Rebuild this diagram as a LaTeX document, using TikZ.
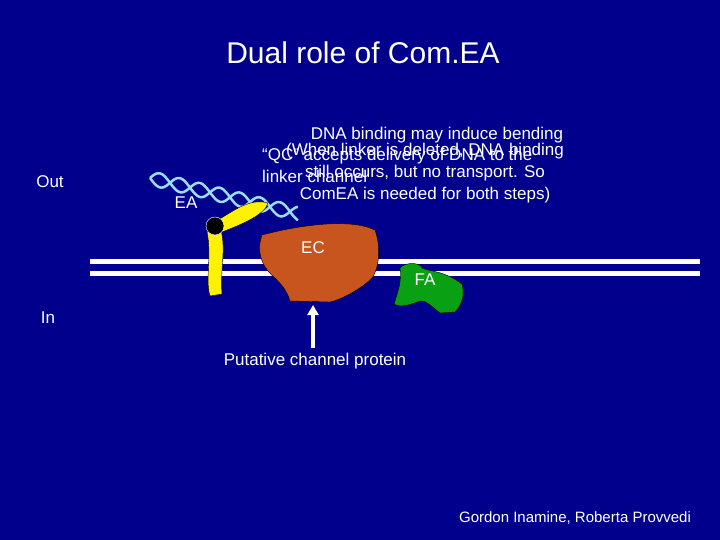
\documentclass[tikz,border=0pt]{standalone}
\usepackage{fontspec}
\setmainfont{Liberation Sans}
\usetikzlibrary{arrows.meta}
\begin{document}
\begin{tikzpicture}[x=1pt,y=-1pt,
  txt/.style={text=white,font=\fontsize{17}{22}\selectfont,inner sep=0pt},
  memb/.style={white,line width=5pt},
  dna/.style={cyan!40!white,line width=2.5pt}]
\fill[fill={rgb,255:red,0;green,0;blue,140}] (0,0) rectangle (720,540);
\useasboundingbox (0,0) rectangle (720,540);
\node[txt,font=\fontsize{30}{34}\selectfont] (title) at (363,53) {Dual role of Com.EA};
% membrane
\draw[memb] (90,261) -- (700,261);
\draw[memb] (90,273) -- (700,273);
% DNA helix
\draw[dna] plot[domain=0:148,samples=150] ({150+\x},{178+0.24*\x+7*sin(\x*9)});
\draw[dna] plot[domain=0:148,samples=150] ({150+\x},{178+0.24*\x-7*sin(\x*9)});
% EA
\fill[yellow,draw=black] (207,232) .. controls (212,255) and (205,280) .. (210,296) -- (222,294) .. controls (220,270) and (226,250) .. (221,230) -- cycle;
\fill[yellow,draw=black] (218,220) .. controls (235,210) and (250,198) .. (268,203) .. controls (265,215) and (240,225) .. (222,232) -- cycle;
\fill[black,draw=white] (215,226) circle (9);
\node[txt] (ea) at (186,203) {EA};
% EC
\fill[fill={rgb,255:red,200;green,85;blue,30},draw=black] (262,235) .. controls (300,225) and (350,218) .. (375,230) .. controls (382,250) and (378,270) .. (372,278) .. controls (360,290) and (340,300) .. (330,302) -- (290,301) .. controls (287,290) and (280,283) .. (275,278) .. controls (265,270) and (255,255) .. (262,235) -- cycle;
\node[txt] (ec) at (313,248) {EC};
% FA
\fill[fill={rgb,255:red,10;green,160;blue,20},draw=black] (400,268) .. controls (405,262) and (420,262) .. (422,268) .. controls (430,272) and (443,270) .. (462,284) .. controls (465,295) and (462,305) .. (455,312) -- (440,313) .. controls (430,305) and (425,300) .. (420,301) .. controls (410,305) and (400,308) .. (394,304) .. controls (398,292) and (402,280) .. (400,268) -- cycle;
\node[txt] (fa) at (425,280) {FA};
% arrow
\node[txt] (pcp) at (315,361) {Putative channel protein};
\draw[white,line width=3.5pt,-{Triangle[width=11pt,length=10pt]}] (313,348) -- (313,305);
\node[txt] (out) at (50,182) {Out};
\node[txt] (in) at (48,318) {In};
\node[txt,align=center] (t1) at (437,135) {DNA binding may induce bending};
\node[txt,anchor=north west,align=left] (t2) at (262,148) {“QC” accepts delivery of DNA to the\\linker channel};
\node[txt,align=center,anchor=north] (t3) at (425,143) {(When linker is deleted, DNA binding\\still occurs, but no transport. So\\ComEA is needed for both steps)};
\node[txt,font=\fontsize{15}{17}\selectfont] (cred) at (575,518) {Gordon Inamine, Roberta Provvedi};
\end{tikzpicture}
\end{document}
